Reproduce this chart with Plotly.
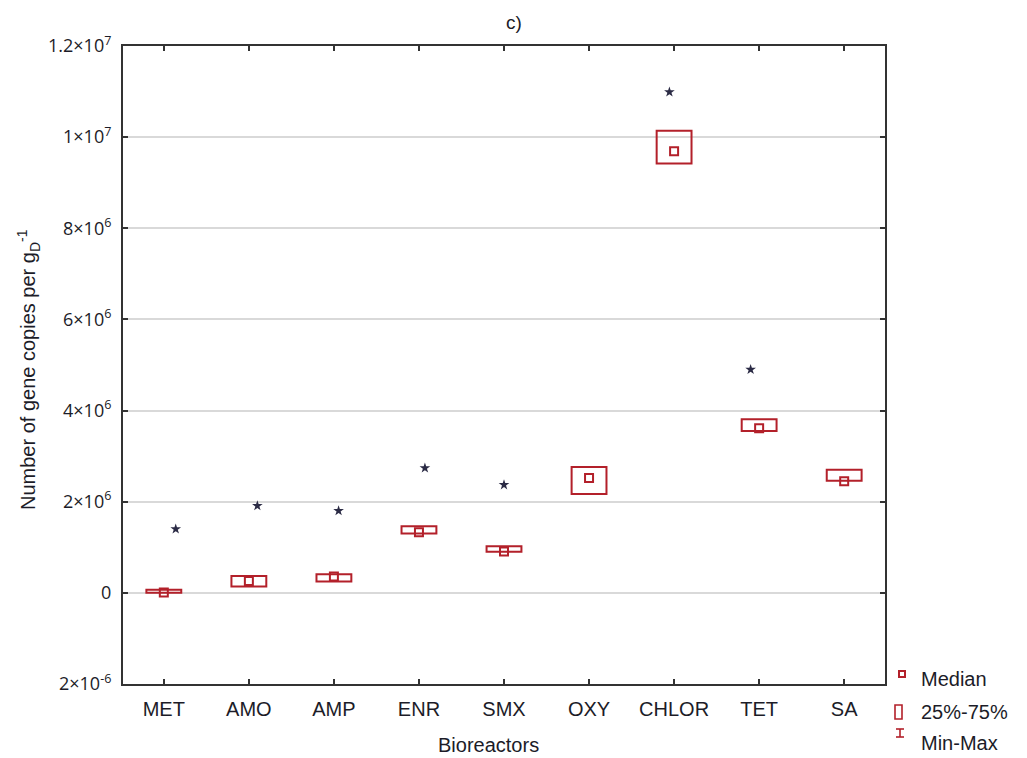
import plotly.graph_objects as go

# ---------------- data ----------------
categories = ["MET", "AMO", "AMP", "ENR", "SMX", "OXY", "CHLOR", "TET", "SA"]
medians = [0.01e6, 0.26e6, 0.36e6, 1.33e6, 0.91e6, 2.52e6, 9.69e6, 3.61e6, 2.45e6]
q1 = [0.00e6, 0.14e6, 0.25e6, 1.30e6, 0.90e6, 2.17e6, 9.42e6, 3.55e6, 2.46e6]
q3 = [0.07e6, 0.37e6, 0.41e6, 1.46e6, 1.02e6, 2.76e6, 10.14e6, 3.81e6, 2.70e6]
outlier_cat = ["MET", "AMO", "AMP", "ENR", "SMX", "CHLOR", "TET"]
outlier_val = [1.40e6, 1.91e6, 1.80e6, 2.74e6, 2.37e6, 10.99e6, 4.90e6]
outlier_jitter = [0.14, 0.10, 0.055, 0.07, 0.0, -0.055, -0.10]
ytick_vals = [-2e6, 0, 2e6, 4e6, 6e6, 8e6, 10e6, 12e6]
ytick_text = ["2×10<sup>-6</sup>", "0", "2×10<sup>6</sup>", "4×10<sup>6</sup>", "6×10<sup>6</sup>",
              "8×10<sup>6</sup>", "1×10<sup>7</sup>", "1.2×10<sup>7</sup>"]

# ---------------- layout geometry ----------------
W, H = 1027, 758
L, R, T, B = 123, 1027 - 885, 46, 758 - 684
PW, PH = W - L - R, H - T - B

def px(x):
    return (x - L) / PW

def py(y):
    return (H - B - y) / PH

RED = "#b3202a"
TXT = "#1c1c28"
ARIAL = "Liberation Sans, Arial"
xpos = list(range(len(categories)))
box_half = 0.205

fig = go.Figure()

shapes = []
for i, c in enumerate(categories):
    shapes.append(dict(type="rect", xref="x", yref="y", x0=i - box_half, x1=i + box_half,
                       y0=q1[i], y1=q3[i], line=dict(color=RED, width=2), fillcolor="rgba(0,0,0,0)"))

fig.add_trace(go.Scatter(x=xpos, y=medians, mode="markers", showlegend=False,
                         marker=dict(symbol="square-open", size=8, color=RED, line=dict(width=2, color=RED))))

ox = [categories.index(c) + j for c, j in zip(outlier_cat, outlier_jitter)]
fig.add_trace(go.Scatter(x=ox, y=outlier_val, mode="markers", showlegend=False,
                         marker=dict(symbol="star", size=8, color="#2b2b45",
                                     line=dict(width=0))))

# legend drawn manually
shapes.append(dict(type="rect", xref="paper", yref="paper", x0=px(899), x1=px(905), y0=py(677), y1=py(671),
                   line=dict(color=RED, width=2)))
shapes.append(dict(type="rect", xref="paper", yref="paper", x0=px(895), x1=px(902), y0=py(719), y1=py(705),
                   line=dict(color=RED, width=1.6)))
shapes.append(dict(type="line", xref="paper", yref="paper", x0=px(900), x1=px(900), y0=py(737), y1=py(729),
                   line=dict(color=RED, width=1.6)))
shapes.append(dict(type="line", xref="paper", yref="paper", x0=px(896), x1=px(904), y0=py(729), y1=py(729),
                   line=dict(color=RED, width=1.6)))
shapes.append(dict(type="line", xref="paper", yref="paper", x0=px(896), x1=px(904), y0=py(737), y1=py(737),
                   line=dict(color=RED, width=1.6)))

annotations = []
for txt, y in [("Median", 679), ("25%-75%", 712), ("Min-Max", 743)]:
    annotations.append(dict(text=txt, xref="paper", yref="paper", x=px(919), y=py(y), xanchor="left",
                            yanchor="middle", showarrow=False,
                            font=dict(family=ARIAL, size=20, color=TXT)))
annotations.append(dict(text="c)", xref="paper", yref="paper", x=px(514), y=py(22), showarrow=False,
                        xanchor="center", yanchor="middle",
                        font=dict(family=ARIAL, size=19, color=TXT)))
annotations.append(dict(text="Bioreactors", xref="paper", yref="paper", x=px(488), y=py(745), showarrow=False,
                        xanchor="center", yanchor="middle",
                        font=dict(family=ARIAL, size=20, color=TXT)))
annotations.append(dict(text="Number of gene copies per g<sub>D</sub><sup>-1</sup>", xref="paper", yref="paper",
                        x=px(28), y=py(370), showarrow=False, textangle=-90,
                        xanchor="center", yanchor="middle",
                        font=dict(family=ARIAL, size=20, color=TXT)))

fig.update_layout(
    width=W, height=H,
    margin=dict(l=L, r=R, t=T, b=B),
    paper_bgcolor="white", plot_bgcolor="white",
    shapes=shapes, annotations=annotations,
    showlegend=False,
    xaxis=dict(range=[-0.48, 8.48], tickvals=xpos, ticktext=categories, showgrid=False, zeroline=False,
               showline=True, linecolor="#333333", linewidth=2, mirror="ticks",
               ticks="inside", ticklen=5, tickwidth=2, tickcolor="#333333",
               tickfont=dict(family=ARIAL, size=20, color=TXT), ticklabelstandoff=6),
    yaxis=dict(range=[-2e6, 12e6], tickvals=ytick_vals, ticktext=ytick_text, showgrid=True,
               gridcolor="#d9d9d9", gridwidth=1.5, zeroline=False,
               showline=True, linecolor="#333333", linewidth=2, mirror="ticks",
               ticks="inside", ticklen=5, tickwidth=2, tickcolor="#333333",
               tickfont=dict(family="Open Sans", size=18, color=TXT), ticklabelstandoff=6),
)

fig.write_html("out.html")
